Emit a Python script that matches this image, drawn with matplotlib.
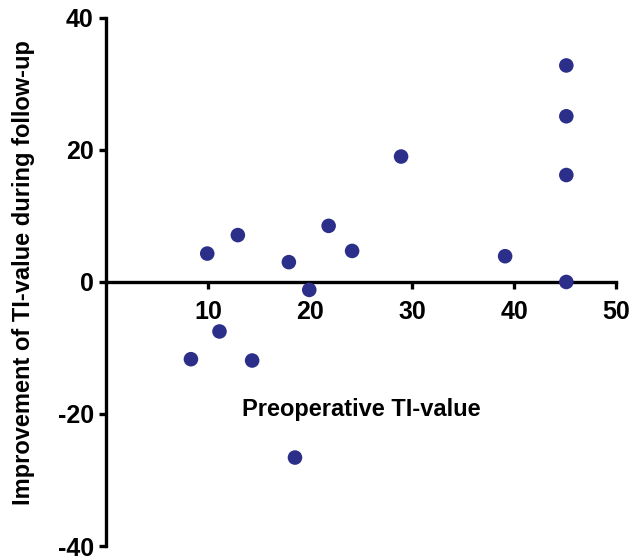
import matplotlib
matplotlib.use('Agg')
from matplotlib import pyplot as plt

# Preoperative TI-value vs improvement during follow-up
preop_ti = [8.3, 9.9, 11.1, 12.9, 14.3, 17.9, 19.9, 18.5, 21.8, 24.1,
            28.9, 39.1, 45.1, 45.1, 45.1, 45.1]
improvement = [-11.7, 4.3, -7.5, 7.1, -11.9, 3.0, -1.2, -26.6, 8.5, 4.7,
               19.0, 3.9, 32.8, 25.1, 16.2, 0.0]

x_ticks = [10, 20, 30, 40, 50]
y_ticks = [-40, -20, 0, 20, 40]

plt.rcParams['font.family'] = ['Liberation Sans', 'DejaVu Sans']
plt.rcParams['font.weight'] = 'bold'
plt.rcParams['axes.unicode_minus'] = False

fig = plt.figure(figsize=(6.44, 5.60), dpi=100)
ax = fig.add_axes([0.165, 0.025, 0.792, 0.943])

ax.scatter(preop_ti, improvement, s=110, color='#2b2f8a', zorder=3,
           clip_on=False, edgecolors='none')

ax.set_xlim(0, 50)
ax.set_ylim(-40, 40)
ax.spines['right'].set_visible(False)
ax.spines['top'].set_visible(False)
ax.spines['bottom'].set_position(('data', 0))
ax.spines['left'].set_position(('data', 0))
for sp in ('left', 'bottom'):
    ax.spines[sp].set_linewidth(2.4)

ax.set_xticks(x_ticks)
ax.set_yticks(y_ticks)
ax.tick_params(axis='both', direction='out', length=5, width=2.4,
               labelsize=18)
ax.tick_params(axis='x', pad=8)
ax.tick_params(axis='y', pad=4)
for lbl in ax.get_xticklabels() + ax.get_yticklabels():
    lbl.set_fontweight('bold')

ax.text(25.05, -19.3, 'Preoperative TI-value', ha='center', va='center',
        fontsize=17, fontweight='bold')
# y label sits at the far left of the figure
fig.text(0.036, 0.514, 'Improvement of TI-value during follow-up',
         rotation=90, ha='center', va='center', fontsize=17,
         fontweight='bold')

fig.savefig('out.png', dpi=100)
